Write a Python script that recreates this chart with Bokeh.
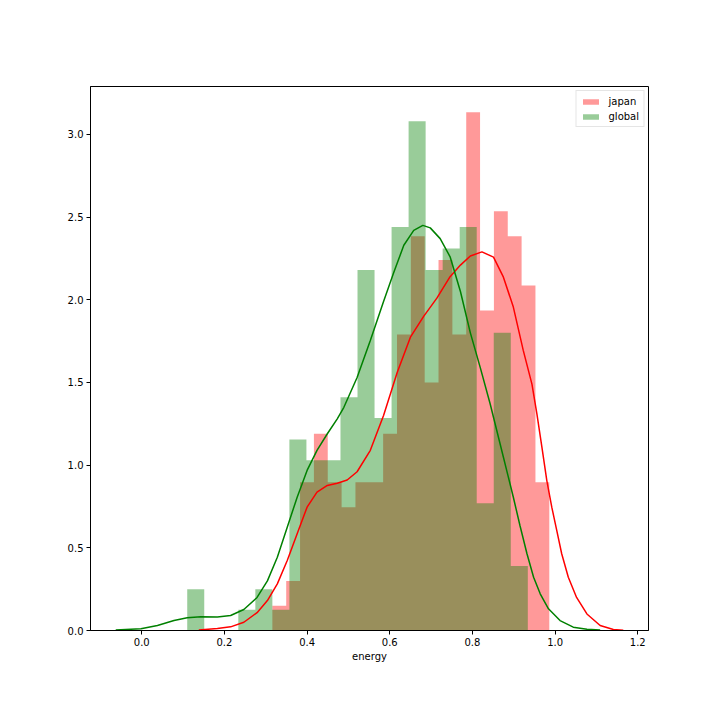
import numpy as np
from bokeh.plotting import figure
from bokeh.models import Range1d, FixedTicker, NumeralTickFormatter
from bokeh.embed import file_html
from bokeh.resources import INLINE

# ---- data ----
japan_bin_start, japan_bin_end = 0.316, 0.986
japan_density = [0.15, 0.30, 0.897, 1.19, 0.897, 0.746, 0.897, 0.897, 1.19, 1.79,
                 2.385, 1.50, 2.24, 1.79, 3.135, 1.935, 2.535, 2.385, 2.087, 0.897]

global_bin_start, global_bin_end = 0.110, 0.934
global_density = [0.25, 0.0, 0.0, 0.125, 0.25, 0.125, 1.155, 1.03, 1.03, 1.41,
                  2.18, 1.285, 2.44, 3.08, 2.18, 2.31, 2.44, 0.77, 1.80, 0.39]

japan_kde_x = [0.138, 0.183, 0.215, 0.247, 0.279, 0.304, 0.328, 0.352, 0.376, 0.400,
               0.424, 0.449, 0.473, 0.497, 0.521, 0.553, 0.585, 0.618, 0.650, 0.682,
               0.714, 0.746, 0.771, 0.795, 0.823, 0.851, 0.875, 0.899, 0.923, 0.944,
               0.956, 0.968, 0.980, 0.992, 1.004, 1.016, 1.032, 1.052, 1.077, 1.109,
               1.141, 1.165]
japan_kde_y = [0.003, 0.012, 0.022, 0.05, 0.108, 0.181, 0.282, 0.423, 0.585, 0.746,
               0.837, 0.877, 0.891, 0.91, 0.96, 1.09, 1.30, 1.56, 1.774, 1.90,
               2.01, 2.14, 2.21, 2.265, 2.29, 2.258, 2.137, 1.956, 1.694, 1.49,
               1.31, 1.11, 0.907, 0.746, 0.605, 0.464, 0.322, 0.20, 0.10, 0.03,
               0.006, 0.001]

global_kde_x = [-0.063, -0.002, 0.038, 0.078, 0.110, 0.143, 0.183, 0.215, 0.247, 0.279,
                0.304, 0.328, 0.352, 0.376, 0.400, 0.424, 0.449, 0.473, 0.489, 0.521,
                0.553, 0.585, 0.609, 0.634, 0.658, 0.680, 0.698, 0.722, 0.746, 0.771,
                0.795, 0.819, 0.843, 0.875, 0.899, 0.915, 0.932, 0.948, 0.964, 0.984,
                1.012, 1.044, 1.077, 1.109]
global_kde_y = [0.003, 0.01, 0.03, 0.06, 0.077, 0.083, 0.082, 0.091, 0.127, 0.20,
                0.30, 0.443, 0.625, 0.806, 0.968, 1.089, 1.19, 1.28, 1.35, 1.53,
                1.754, 1.99, 2.16, 2.33, 2.42, 2.45, 2.435, 2.37, 2.26, 2.05,
                1.80, 1.59, 1.37, 1.048, 0.806, 0.635, 0.464, 0.322, 0.222, 0.131,
                0.06, 0.02, 0.008, 0.003]

x_ticks = [0.0, 0.2, 0.4, 0.6, 0.8, 1.0, 1.2]
y_ticks = [0.0, 0.5, 1.0, 1.5, 2.0, 2.5, 3.0]
series_labels = ["japan", "global"]
x_label = "energy"


def step_outline(start, end, heights):
    """Outline of a histogram (one polygon, no seams between bars)."""
    edges = np.linspace(start, end, len(heights) + 1)
    h = np.asarray(heights, dtype=float)
    xs = np.concatenate([[edges[0]], np.repeat(edges, 2)[1:-1], [edges[-1]]])
    ys = np.concatenate([[0.0], np.repeat(h, 2), [0.0]])
    return xs, ys


# ---- figure ----
FONT = "DejaVu Sans"
p = figure(frame_width=558, frame_height=544,
           x_range=Range1d(-0.124, 1.226), y_range=Range1d(0, 3.29),
           output_backend="svg", toolbar_location=None,
           min_border_left=90, min_border_right=72,
           min_border_top=86, min_border_bottom=90)
p.xgrid.visible = False
p.ygrid.visible = False
p.background_fill_color = "white"
p.border_fill_color = "white"
p.outline_line_color = "black"
p.outline_line_width = 1
p.outline_line_alpha = 1

jx, jy = step_outline(japan_bin_start, japan_bin_end, japan_density)
gx, gy = step_outline(global_bin_start, global_bin_end, global_density)

# histograms first (patches), lines on top (as in matplotlib z-order)
p.patch(jx, jy, fill_color="#ff0000", fill_alpha=0.4, line_color=None,
        legend_label=series_labels[0])
p.patch(gx, gy, fill_color="#008000", fill_alpha=0.4, line_color=None,
        legend_label=series_labels[1])
p.line(japan_kde_x, japan_kde_y, line_color="#ff0000", line_width=1.5)
p.line(global_kde_x, global_kde_y, line_color="#008000", line_width=1.5)

for ax in (p.xaxis[0], p.yaxis[0]):
    ax.axis_line_color = "black"
    ax.axis_line_width = 1
    ax.major_tick_line_color = "black"
    ax.major_tick_out = 4
    ax.major_tick_in = 0
    ax.minor_tick_out = 0
    ax.minor_tick_in = 0
    ax.major_label_text_font = FONT
    ax.major_label_text_font_size = "10px"
    ax.major_label_text_color = "black"
    ax.major_label_standoff = 3
    ax.formatter = NumeralTickFormatter(format="0.0")

p.xaxis[0].ticker = FixedTicker(ticks=x_ticks)
p.yaxis[0].ticker = FixedTicker(ticks=y_ticks)
p.xaxis[0].axis_label = x_label
p.xaxis[0].axis_label_text_font = FONT
p.xaxis[0].axis_label_text_font_size = "10px"
p.xaxis[0].axis_label_text_font_style = "normal"
p.xaxis[0].axis_label_text_color = "black"
p.xaxis[0].axis_label_standoff = 2

lg = p.legend[0]
lg.location = "top_right"
lg.margin = 4
lg.padding = 4
lg.spacing = 3
lg.glyph_width = 20
lg.glyph_height = 7
lg.label_height = 12
lg.label_standoff = 8
lg.label_text_font = FONT
lg.label_text_font_size = "10px"
lg.label_text_color = "black"
lg.border_line_color = "#cccccc"
lg.border_line_width = 1
lg.background_fill_color = "white"
lg.background_fill_alpha = 0.8

open("out.html", "w").write(file_html(p, INLINE))
